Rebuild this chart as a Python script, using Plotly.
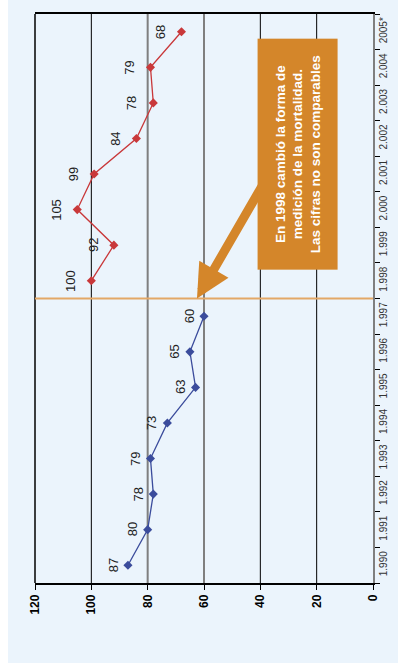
import plotly.graph_objects as go

# ---- data ----
years_before = ["1.990", "1.991", "1.992", "1.993", "1.994", "1.995", "1.996", "1.997"]
values_before = [87, 80, 78, 79, 73, 63, 65, 60]
years_after = ["1.998", "1.999", "2.000", "2.001", "2.002", "2.003", "2.004", "2005*"]
values_after = [100, 92, 105, 99, 84, 78, 79, 68]
all_years = years_before + years_after
value_ticks = [0, 20, 40, 60, 80, 100, 120]
black_grid = [100, 40, 20]
gray_grid = [80, 60]
note_text = "En 1998 cambió la forma de<br>medición de la mortalidad.<br>Las cifras no son comparables"

BLUE = "#3B4C9C"
RED = "#C9383A"
ORANGE = "#D4862A"
BG = "#EBF4FC"

fig = go.Figure()
fig.add_trace(go.Scatter(
    x=values_before, y=years_before, mode="lines+markers",
    line=dict(color=BLUE, width=1.3),
    marker=dict(symbol="diamond", size=7, color=BLUE),
    showlegend=False, hoverinfo="skip"))
fig.add_trace(go.Scatter(
    x=values_after, y=years_after, mode="lines+markers",
    line=dict(color=RED, width=1.3),
    marker=dict(symbol="diamond", size=7, color=RED),
    showlegend=False, hoverinfo="skip"))

shapes = []
for v in black_grid:
    shapes.append(dict(type="line", xref="x", yref="paper", x0=v, x1=v, y0=0, y1=1,
                       line=dict(color="black", width=1), layer="below"))
for v in gray_grid:
    shapes.append(dict(type="line", xref="x", yref="paper", x0=v, x1=v, y0=0, y1=1,
                       line=dict(color="#7F7F7F", width=2), layer="below"))
# left border
shapes.append(dict(type="line", xref="paper", yref="paper", x0=0, x1=0, y0=0, y1=1,
                   line=dict(color="black", width=1.5)))
# method change line between 1997 and 1998
shapes.append(dict(type="line", xref="paper", yref="y", x0=0, x1=1, y0=7.5, y1=7.5,
                   line=dict(color="#E3A867", width=2)))

annotations = []
for v, yr in zip(values_before, years_before):
    annotations.append(dict(x=v, y=all_years.index(yr), text=str(v), showarrow=False,
                            textangle=-90, xshift=-15,
                            font=dict(family="Arial", size=13, color="#222")))
for v, yr in zip(values_after, years_after):
    annotations.append(dict(x=v, y=all_years.index(yr), text=str(v), showarrow=False,
                            textangle=-90, xshift=-21,
                            font=dict(family="Arial", size=13, color="#222")))
# arrow
annotations.append(dict(x=62.5, y=7.5, xref="x", yref="y", text="", showarrow=True,
                        ax=73, ay=-126, arrowcolor=ORANGE, arrowwidth=9,
                        arrowhead=2, arrowsize=0.75, standoff=0))
# note box
annotations.append(dict(x=0.777, y=0.753, xref="paper", yref="paper", text=note_text,
                        xanchor="center", yanchor="middle",
                        showarrow=False, textangle=-90, bgcolor=ORANGE,
                        width=226, height=75, borderpad=2, align="center",
                        font=dict(family="Arial", size=13.5, color="white", weight="bold")))

fig.update_layout(
    width=398, height=663,
    margin=dict(l=27, r=33, t=12, b=80),
    paper_bgcolor=BG,
    plot_bgcolor="rgba(0,0,0,0)",
    shapes=shapes, annotations=annotations,
    xaxis=dict(range=[120, 0], tickvals=value_ticks, ticks="outside", ticklen=5,
               tickcolor="black", showline=True, linecolor="black", linewidth=1.5,
               mirror=True, showgrid=False, zeroline=False, tickangle=-90,
               tickfont=dict(family="Arial", size=12, color="black", weight="bold")),
    yaxis=dict(type="category", categoryorder="array", categoryarray=all_years,
               range=[-0.5, 15.5], side="right", ticks="outside", tickson="boundaries",
               ticklen=5, tickcolor="black", showline=True, linecolor="#7F7F7F",
               linewidth=2, showgrid=False, zeroline=False, tickangle=-90,
               tickfont=dict(family="Arial", size=10, color="#333")),
)

fig.write_html("out.html", post_script="document.body.style.marginTop='0px';")
